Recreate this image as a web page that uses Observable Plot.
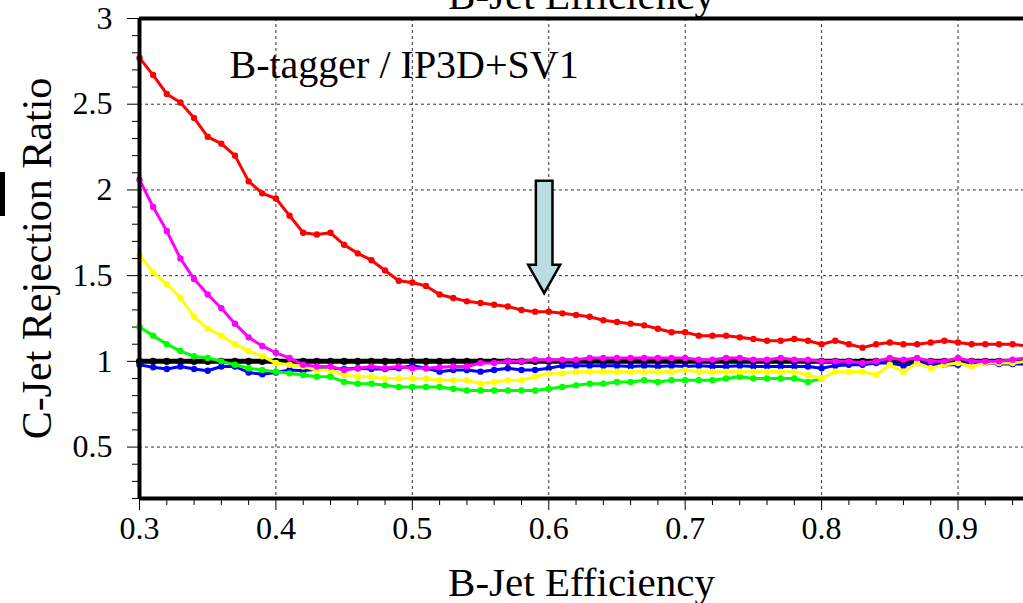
<!DOCTYPE html>
<html>
<head>
<meta charset="utf-8">
<script src="https://cdn.jsdelivr.net/npm/d3@7"></script>
<script src="https://cdn.jsdelivr.net/npm/@observablehq/plot@0.6"></script>
<style>
  html, body { margin: 0; padding: 0; background: #fff; overflow: hidden; }
  #wrap { position: relative; width: 1023px; height: 603px; overflow: hidden; }
  #edgebar { position: absolute; left: 0; top: 172px; width: 5px; height: 44px; background: #000; }
</style>
</head>
<body>
<div id="wrap"><div id="edgebar"></div></div>
<script>
// ---------- data ----------
const effX = [0.30,0.31,0.32,0.33,0.34,0.35,0.36,0.37,0.38,0.39,
              0.40,0.41,0.42,0.43,0.44,0.45,0.46,0.47,0.48,0.49,
              0.50,0.51,0.52,0.53,0.54,0.55,0.56,0.57,0.58,0.59,
              0.60,0.61,0.62,0.63,0.64,0.65,0.66,0.67,0.68,0.69,
              0.70,0.71,0.72,0.73,0.74,0.75,0.76,0.77,0.78,0.79,
              0.80,0.81,0.82,0.83,0.84,0.85,0.86,0.87,0.88,0.89,
              0.90,0.91,0.92,0.93,0.94,0.95];

const blackRatio = [1,1,1,1,1,1,1,1,1,1, 1,1,1,1,1,1,1,1,1,1,
                    1,1,1,1,1,1,1,1,1,1, 1,1,1,1,1,1,1,1,1,1,
                    1,1,1,1,1,1,1,1,1,1, 1,1,1,1,1,1,1,1,1,1,
                    1,1,1,1,1,1];

const redRatio = [2.77,2.67,2.56,2.51,2.42,2.31,2.27,2.20,2.05,1.98,
                  1.95,1.85,1.75,1.74,1.75,1.68,1.63,1.59,1.53,1.47,
                  1.46,1.44,1.39,1.37,1.35,1.34,1.33,1.32,1.30,1.29,
                  1.29,1.28,1.27,1.26,1.24,1.23,1.22,1.21,1.19,1.17,
                  1.17,1.15,1.15,1.15,1.14,1.13,1.12,1.12,1.13,1.12,
                  1.10,1.12,1.10,1.08,1.10,1.11,1.10,1.10,1.11,1.12,
                  1.11,1.10,1.10,1.10,1.10,1.09];

const magentaRatio = [2.06,1.90,1.76,1.60,1.48,1.39,1.31,1.22,1.14,1.09,
                      1.05,1.02,0.98,0.97,0.97,0.95,0.96,0.97,0.96,0.97,
                      0.96,0.96,0.965,0.97,0.97,0.99,0.99,1.00,1.00,1.01,
                      1.01,1.01,1.01,1.02,1.02,1.02,1.02,1.02,1.02,1.02,
                      1.02,1.01,1.01,1.02,1.02,1.01,1.01,1.02,1.01,1.01,
                      1.00,1.00,1.00,0.99,1.00,1.02,1.01,1.02,1.00,1.00,
                      1.02,1.00,1.00,1.00,1.01,1.02];

const yellowRatio = [1.62,1.52,1.45,1.37,1.26,1.19,1.15,1.10,1.06,1.03,
                     0.99,0.98,0.97,0.95,0.95,0.92,0.91,0.91,0.90,0.90,
                     0.90,0.90,0.89,0.89,0.89,0.87,0.88,0.89,0.89,0.91,
                     0.93,0.93,0.94,0.94,0.94,0.94,0.94,0.94,0.94,0.94,
                     0.95,0.94,0.94,0.94,0.94,0.94,0.94,0.94,0.94,0.92,
                     0.90,0.94,0.94,0.94,0.92,0.98,0.94,0.99,0.96,0.98,
                     0.99,0.97,0.99,0.99,0.99,1.00];

const greenX = [0.30,0.31,0.32,0.33,0.34,0.35,0.36,0.37,0.38,0.39,
                0.40,0.41,0.42,0.43,0.44,0.45,0.46,0.47,0.48,0.49,
                0.50,0.51,0.52,0.53,0.54,0.55,0.56,0.57,0.58,0.59,
                0.60,0.61,0.62,0.63,0.64,0.65,0.66,0.67,0.68,0.69,
                0.70,0.71,0.72,0.73,0.74,0.75,0.76,0.77,0.78,0.79,
                0.80];
const greenRatio = [1.20,1.15,1.10,1.06,1.03,1.02,1.00,0.98,0.96,0.95,
                    0.94,0.93,0.92,0.91,0.91,0.88,0.87,0.87,0.86,0.85,
                    0.85,0.85,0.85,0.84,0.83,0.83,0.83,0.83,0.83,0.83,
                    0.84,0.85,0.86,0.87,0.87,0.88,0.88,0.89,0.88,0.89,
                    0.89,0.89,0.89,0.90,0.91,0.90,0.90,0.90,0.90,0.88,
                    0.90];

const blueRatio = [0.98,0.965,0.955,0.97,0.955,0.945,0.97,0.97,0.935,0.925,
                   0.935,0.95,0.945,0.955,0.96,0.955,0.96,0.955,0.955,0.96,
                   0.975,0.96,0.94,0.95,0.95,0.94,0.95,0.96,0.95,0.95,
                   0.96,0.975,0.975,0.975,0.975,0.975,0.97,0.975,0.97,0.975,
                   0.97,0.975,0.97,0.97,0.975,0.97,0.97,0.97,0.97,0.97,
                   0.96,0.975,0.98,0.98,0.99,0.99,0.975,0.99,0.98,0.98,
                   0.98,0.99,0.99,0.985,0.985,0.985];

const xDomain = [0.3, 0.948];
const yDomain = [0.2, 3];
const xTicks = [0.3, 0.4, 0.5, 0.6, 0.7, 0.8, 0.9];
const xTickLabels = ["0.3", "0.4", "0.5", "0.6", "0.7", "0.8", "0.9"];
const xMinor = [0.32,0.34,0.36,0.38,0.42,0.44,0.46,0.48,0.52,0.54,0.56,0.58,
                0.62,0.64,0.66,0.68,0.72,0.74,0.76,0.78,0.82,0.84,0.86,0.88,0.92,0.94];
const yTicks = [0.5, 1, 1.5, 2, 2.5, 3];
const yTickLabels = ["0.5", "1", "1.5", "2", "2.5", "3"];
const yMinor = [0.2,0.3,0.4,0.6,0.7,0.8,0.9,1.1,1.2,1.3,1.4,1.6,1.7,1.8,1.9,
                2.1,2.2,2.3,2.4,2.6,2.7,2.8,2.9];
const xGrid = [0.4, 0.5, 0.6, 0.7, 0.8, 0.9];
const yGrid = [0.5, 1, 1.5, 2, 2.5];

const titleText = "B-Jet Efficiency";
const xLabelText = "B-Jet Efficiency";
const yLabelText = "C-Jet Rejection Ratio";
const noteText = "B-tagger / IP3D+SV1";

// arrow annotation (data coordinates)
const arrowX = [0.597];
const arrowTop = [2.05];
const arrowHeadBase = [1.56];
const arrowTip = [1.395];

// ---------- build ----------
const serif = '"Liberation Serif", "Times New Roman", serif';
const seriesDefs = [
  {name: "black", xs: effX, ys: blackRatio, color: "#000000", w: 5, r: 3.6},
  {name: "blue", xs: effX, ys: blueRatio, color: "#0000ff", w: 3, r: 3.2},
  {name: "green", xs: greenX, ys: greenRatio, color: "#00ff00", w: 3, r: 3.2},
  {name: "yellow", xs: effX, ys: yellowRatio, color: "#ffff00", w: 3, r: 3.2},
  {name: "magenta", xs: effX, ys: magentaRatio, color: "#ff00ff", w: 3, r: 3.2},
  {name: "red", xs: effX, ys: redRatio, color: "#ff0000", w: 3, r: 3.2}
];

const seriesMarks = seriesDefs.flatMap(s => {
  const rows = s.xs.map((x, i) => ({x, ratio: s.ys[i]}));
  return [
    Plot.line(rows, {x: "x", y: "ratio", stroke: s.color, strokeWidth: s.w, curve: "linear"}),
    Plot.dot(rows, {x: "x", y: "ratio", fill: s.color, stroke: "none", r: s.r})
  ];
});

const arrowMark = (index, scales) => {
  const cx = scales.x(arrowX[0]);
  const y0 = scales.y(arrowTop[0]);
  const y1 = scales.y(arrowHeadBase[0]);
  const y2 = scales.y(arrowTip[0]);
  const sw = 8.3, hw = 16;
  const d = `M${cx - sw},${y0}L${cx + sw},${y0}L${cx + sw},${y1}L${cx + hw},${y1}L${cx},${y2}L${cx - hw},${y1}L${cx - sw},${y1}Z`;
  return d3.create("svg:path")
    .attr("d", d)
    .attr("fill", "#b9dde1")
    .attr("stroke", "#000")
    .attr("stroke-width", 2.5)
    .attr("stroke-linejoin", "miter")
    .node();
};

const gridStyle = {stroke: "#333", strokeOpacity: 1, strokeWidth: 1, strokeDasharray: "3,3"};

const plot = Plot.plot({
  width: 1023,
  height: 603,
  marginTop: 18,
  marginBottom: 105,
  marginLeft: 139,
  marginRight: 0,
  style: {fontFamily: serif, background: "white", color: "#000", overflow: "visible"},
  x: {domain: xDomain, label: null},
  y: {domain: yDomain, label: null},
  marks: [
    Plot.ruleX(xGrid, gridStyle),
    Plot.ruleY(yGrid, gridStyle),
    // minor ticks
    Plot.axisX(xMinor, {anchor: "bottom", tickSize: 7, fill: "none", label: null, stroke: "#000"}),
    Plot.axisY(yMinor, {anchor: "left", tickSize: 7, fill: "none", label: null, stroke: "#000"}),
    // major ticks + labels
    Plot.axisX(xTicks, {anchor: "bottom", tickSize: 12, tickPadding: 6, fontSize: 32, label: null,
      tickFormat: d => xTickLabels[xTicks.indexOf(d)], fill: "#000", stroke: "#000"}),
    Plot.axisY(yTicks, {anchor: "left", tickSize: 12, tickPadding: 15, fontSize: 32, label: null,
      tickFormat: d => yTickLabels[yTicks.indexOf(d)], fill: "#000", stroke: "#000"}),
    // data
    ...seriesMarks,
    arrowMark,
    // frame lines
    Plot.ruleX([xDomain[0]], {stroke: "#000", strokeWidth: 4}),
    Plot.ruleY([yDomain[0]], {stroke: "#000", strokeWidth: 4}),
    Plot.ruleY([yDomain[1]], {stroke: "#000", strokeWidth: 4}),
    // texts
    Plot.text([noteText], {frameAnchor: "top-left", text: d => d, textAnchor: "start", lineAnchor: "bottom",
      dx: 90, dy: 59, fontSize: 40, fontFamily: serif, fill: "#000"}),
    Plot.text([xLabelText], {frameAnchor: "bottom", text: d => d, textAnchor: "middle", lineAnchor: "bottom",
      dy: 97, fontSize: 41, fontFamily: serif, fill: "#000"}),
    Plot.text([titleText], {frameAnchor: "top", text: d => d, textAnchor: "middle", lineAnchor: "bottom",
      dy: -10, fontSize: 41, fontFamily: serif, fill: "#000"}),
    Plot.text([yLabelText], {frameAnchor: "left", text: d => d, textAnchor: "middle", lineAnchor: "bottom", rotate: -90,
      dx: -89, fontSize: 42, fontFamily: serif, fill: "#000"})
  ]
});

document.getElementById("wrap").appendChild(plot);
</script>
</body>
</html>
